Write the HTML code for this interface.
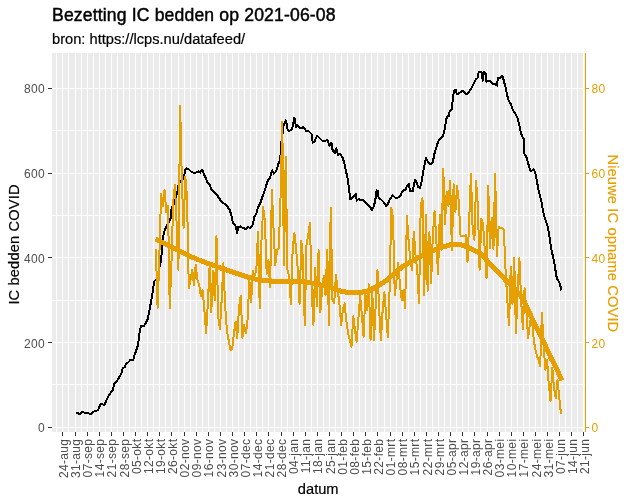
<!DOCTYPE html><html><head><meta charset="utf-8"><style>html,body{margin:0;padding:0;background:#fff;width:631px;height:501px;overflow:hidden}svg{display:block}text{font-family:"Liberation Sans",Arial,sans-serif}</style></head><body>
<svg width="631" height="501" viewBox="0 0 631 501">
<rect x="0" y="0" width="631" height="501" fill="#fff"/>
<rect x="52" y="53" width="532.5" height="379" fill="#EBEBEB"/>
<g shape-rendering="crispEdges"><line x1="52" x2="584.5" y1="427.5" y2="427.5" stroke="#fff" stroke-width="1.0"/><line x1="52" x2="584.5" y1="384.5" y2="384.5" stroke="#fff" stroke-width="1.0"/><line x1="52" x2="584.5" y1="342.5" y2="342.5" stroke="#fff" stroke-width="1.0"/><line x1="52" x2="584.5" y1="300.5" y2="300.5" stroke="#fff" stroke-width="1.0"/><line x1="52" x2="584.5" y1="257.5" y2="257.5" stroke="#fff" stroke-width="1.0"/><line x1="52" x2="584.5" y1="215.5" y2="215.5" stroke="#fff" stroke-width="1.0"/><line x1="52" x2="584.5" y1="173.5" y2="173.5" stroke="#fff" stroke-width="1.0"/><line x1="52" x2="584.5" y1="130.5" y2="130.5" stroke="#fff" stroke-width="1.0"/><line x1="52" x2="584.5" y1="88.5" y2="88.5" stroke="#fff" stroke-width="1.0"/><line x1="56.5" x2="56.5" y1="53" y2="432" stroke="#fff" stroke-width="1"/><line x1="62.5" x2="62.5" y1="53" y2="432" stroke="#fff" stroke-width="1"/><line x1="68.5" x2="68.5" y1="53" y2="432" stroke="#fff" stroke-width="1"/><line x1="75.5" x2="75.5" y1="53" y2="432" stroke="#fff" stroke-width="1"/><line x1="81.5" x2="81.5" y1="53" y2="432" stroke="#fff" stroke-width="1"/><line x1="87.5" x2="87.5" y1="53" y2="432" stroke="#fff" stroke-width="1"/><line x1="93.5" x2="93.5" y1="53" y2="432" stroke="#fff" stroke-width="1"/><line x1="99.5" x2="99.5" y1="53" y2="432" stroke="#fff" stroke-width="1"/><line x1="105.5" x2="105.5" y1="53" y2="432" stroke="#fff" stroke-width="1"/><line x1="111.5" x2="111.5" y1="53" y2="432" stroke="#fff" stroke-width="1"/><line x1="117.5" x2="117.5" y1="53" y2="432" stroke="#fff" stroke-width="1"/><line x1="123.5" x2="123.5" y1="53" y2="432" stroke="#fff" stroke-width="1"/><line x1="129.5" x2="129.5" y1="53" y2="432" stroke="#fff" stroke-width="1"/><line x1="135.5" x2="135.5" y1="53" y2="432" stroke="#fff" stroke-width="1"/><line x1="141.5" x2="141.5" y1="53" y2="432" stroke="#fff" stroke-width="1"/><line x1="147.5" x2="147.5" y1="53" y2="432" stroke="#fff" stroke-width="1"/><line x1="153.5" x2="153.5" y1="53" y2="432" stroke="#fff" stroke-width="1"/><line x1="159.5" x2="159.5" y1="53" y2="432" stroke="#fff" stroke-width="1"/><line x1="165.5" x2="165.5" y1="53" y2="432" stroke="#fff" stroke-width="1"/><line x1="171.5" x2="171.5" y1="53" y2="432" stroke="#fff" stroke-width="1"/><line x1="178.5" x2="178.5" y1="53" y2="432" stroke="#fff" stroke-width="1"/><line x1="184.5" x2="184.5" y1="53" y2="432" stroke="#fff" stroke-width="1"/><line x1="190.5" x2="190.5" y1="53" y2="432" stroke="#fff" stroke-width="1"/><line x1="196.5" x2="196.5" y1="53" y2="432" stroke="#fff" stroke-width="1"/><line x1="202.5" x2="202.5" y1="53" y2="432" stroke="#fff" stroke-width="1"/><line x1="208.5" x2="208.5" y1="53" y2="432" stroke="#fff" stroke-width="1"/><line x1="214.5" x2="214.5" y1="53" y2="432" stroke="#fff" stroke-width="1"/><line x1="220.5" x2="220.5" y1="53" y2="432" stroke="#fff" stroke-width="1"/><line x1="226.5" x2="226.5" y1="53" y2="432" stroke="#fff" stroke-width="1"/><line x1="232.5" x2="232.5" y1="53" y2="432" stroke="#fff" stroke-width="1"/><line x1="238.5" x2="238.5" y1="53" y2="432" stroke="#fff" stroke-width="1"/><line x1="244.5" x2="244.5" y1="53" y2="432" stroke="#fff" stroke-width="1"/><line x1="250.5" x2="250.5" y1="53" y2="432" stroke="#fff" stroke-width="1"/><line x1="256.5" x2="256.5" y1="53" y2="432" stroke="#fff" stroke-width="1"/><line x1="262.5" x2="262.5" y1="53" y2="432" stroke="#fff" stroke-width="1"/><line x1="268.5" x2="268.5" y1="53" y2="432" stroke="#fff" stroke-width="1"/><line x1="274.5" x2="274.5" y1="53" y2="432" stroke="#fff" stroke-width="1"/><line x1="281.5" x2="281.5" y1="53" y2="432" stroke="#fff" stroke-width="1"/><line x1="287.5" x2="287.5" y1="53" y2="432" stroke="#fff" stroke-width="1"/><line x1="293.5" x2="293.5" y1="53" y2="432" stroke="#fff" stroke-width="1"/><line x1="299.5" x2="299.5" y1="53" y2="432" stroke="#fff" stroke-width="1"/><line x1="305.5" x2="305.5" y1="53" y2="432" stroke="#fff" stroke-width="1"/><line x1="311.5" x2="311.5" y1="53" y2="432" stroke="#fff" stroke-width="1"/><line x1="317.5" x2="317.5" y1="53" y2="432" stroke="#fff" stroke-width="1"/><line x1="323.5" x2="323.5" y1="53" y2="432" stroke="#fff" stroke-width="1"/><line x1="329.5" x2="329.5" y1="53" y2="432" stroke="#fff" stroke-width="1"/><line x1="335.5" x2="335.5" y1="53" y2="432" stroke="#fff" stroke-width="1"/><line x1="341.5" x2="341.5" y1="53" y2="432" stroke="#fff" stroke-width="1"/><line x1="347.5" x2="347.5" y1="53" y2="432" stroke="#fff" stroke-width="1"/><line x1="353.5" x2="353.5" y1="53" y2="432" stroke="#fff" stroke-width="1"/><line x1="359.5" x2="359.5" y1="53" y2="432" stroke="#fff" stroke-width="1"/><line x1="365.5" x2="365.5" y1="53" y2="432" stroke="#fff" stroke-width="1"/><line x1="371.5" x2="371.5" y1="53" y2="432" stroke="#fff" stroke-width="1"/><line x1="377.5" x2="377.5" y1="53" y2="432" stroke="#fff" stroke-width="1"/><line x1="384.5" x2="384.5" y1="53" y2="432" stroke="#fff" stroke-width="1"/><line x1="390.5" x2="390.5" y1="53" y2="432" stroke="#fff" stroke-width="1"/><line x1="396.5" x2="396.5" y1="53" y2="432" stroke="#fff" stroke-width="1"/><line x1="402.5" x2="402.5" y1="53" y2="432" stroke="#fff" stroke-width="1"/><line x1="408.5" x2="408.5" y1="53" y2="432" stroke="#fff" stroke-width="1"/><line x1="414.5" x2="414.5" y1="53" y2="432" stroke="#fff" stroke-width="1"/><line x1="420.5" x2="420.5" y1="53" y2="432" stroke="#fff" stroke-width="1"/><line x1="426.5" x2="426.5" y1="53" y2="432" stroke="#fff" stroke-width="1"/><line x1="432.5" x2="432.5" y1="53" y2="432" stroke="#fff" stroke-width="1"/><line x1="438.5" x2="438.5" y1="53" y2="432" stroke="#fff" stroke-width="1"/><line x1="444.5" x2="444.5" y1="53" y2="432" stroke="#fff" stroke-width="1"/><line x1="450.5" x2="450.5" y1="53" y2="432" stroke="#fff" stroke-width="1"/><line x1="456.5" x2="456.5" y1="53" y2="432" stroke="#fff" stroke-width="1"/><line x1="462.5" x2="462.5" y1="53" y2="432" stroke="#fff" stroke-width="1"/><line x1="468.5" x2="468.5" y1="53" y2="432" stroke="#fff" stroke-width="1"/><line x1="474.5" x2="474.5" y1="53" y2="432" stroke="#fff" stroke-width="1"/><line x1="480.5" x2="480.5" y1="53" y2="432" stroke="#fff" stroke-width="1"/><line x1="487.5" x2="487.5" y1="53" y2="432" stroke="#fff" stroke-width="1"/><line x1="493.5" x2="493.5" y1="53" y2="432" stroke="#fff" stroke-width="1"/><line x1="499.5" x2="499.5" y1="53" y2="432" stroke="#fff" stroke-width="1"/><line x1="505.5" x2="505.5" y1="53" y2="432" stroke="#fff" stroke-width="1"/><line x1="511.5" x2="511.5" y1="53" y2="432" stroke="#fff" stroke-width="1"/><line x1="517.5" x2="517.5" y1="53" y2="432" stroke="#fff" stroke-width="1"/><line x1="523.5" x2="523.5" y1="53" y2="432" stroke="#fff" stroke-width="1"/><line x1="529.5" x2="529.5" y1="53" y2="432" stroke="#fff" stroke-width="1"/><line x1="535.5" x2="535.5" y1="53" y2="432" stroke="#fff" stroke-width="1"/><line x1="541.5" x2="541.5" y1="53" y2="432" stroke="#fff" stroke-width="1"/><line x1="547.5" x2="547.5" y1="53" y2="432" stroke="#fff" stroke-width="1"/><line x1="553.5" x2="553.5" y1="53" y2="432" stroke="#fff" stroke-width="1"/><line x1="559.5" x2="559.5" y1="53" y2="432" stroke="#fff" stroke-width="1"/><line x1="565.5" x2="565.5" y1="53" y2="432" stroke="#fff" stroke-width="1"/><line x1="571.5" x2="571.5" y1="53" y2="432" stroke="#fff" stroke-width="1"/><line x1="577.5" x2="577.5" y1="53" y2="432" stroke="#fff" stroke-width="1"/><line x1="583.5" x2="583.5" y1="53" y2="432" stroke="#fff" stroke-width="1"/></g>
<path d="M76.37,412.70 L80.37,414.30 L81.97,411.90 L85.97,413.00 L90.77,413.80 L94.77,411.10 L97.97,410.30 L100.37,404.20 L101.97,403.60 L104.27,405.50 L106.67,399.90 L109.07,395.10 L113.07,389.50 L114.37,383.10 L116.27,381.90 L121.07,374.30 L122.67,368.40 L125.07,366.80 L125.87,363.60 L128.27,362.40 L130.67,359.50 L133.07,360.40 L134.17,356.00 L136.27,350.40 L137.87,345.60 L138.77,339.10 L139.87,330.30 L141.17,325.80 L143.57,326.30 L145.17,323.90 L147.27,320.40 L148.37,315.90 L149.97,307.90 L151.57,298.30 L153.17,288.80 L153.97,281.60 L156.37,279.20 L158.47,272.00 L160.47,263.00 L161.47,256.00 L161.77,244.00 L162.97,237.50 L164.17,231.50 L170.57,218.40 L170.97,212.00 L171.77,207.20 L174.57,202.80 L177.97,188.80 L178.77,184.00 L183.47,178.40 L184.27,176.00 L185.07,169.60 L186.67,168.30 L188.27,168.80 L190.67,171.20 L193.07,172.50 L196.27,172.50 L198.67,171.50 L200.27,172.80 L201.37,170.40 L202.67,170.40 L204.27,175.20 L205.87,178.40 L207.47,182.40 L209.87,184.80 L211.47,189.60 L213.87,192.00 L217.07,195.10 L220.27,199.90 L223.47,203.10 L226.67,205.50 L229.87,210.30 L231.47,215.90 L233.07,223.10 L235.47,225.50 L237.17,232.70 L238.27,227.10 L240.37,226.30 L242.77,227.90 L245.17,228.70 L245.97,229.50 L247.57,227.10 L249.97,227.90 L251.57,226.30 L253.17,223.90 L253.97,217.50 L255.57,215.10 L257.17,211.10 L257.97,207.10 L259.57,204.70 L261.17,200.70 L262.67,195.90 L264.27,191.90 L265.87,187.20 L267.07,182.40 L268.27,180.00 L270.27,177.60 L271.47,172.00 L272.27,170.40 L273.87,173.60 L276.27,171.20 L277.87,165.60 L279.47,160.80 L280.37,157.90 L281.17,143.50 L283.57,126.00 L285.17,122.00 L285.97,120.40 L286.77,124.40 L287.57,129.20 L289.17,130.80 L291.57,130.00 L293.17,125.20 L293.97,118.00 L295.07,118.80 L295.87,127.60 L297.17,125.20 L299.57,127.60 L301.87,128.40 L303.47,126.80 L305.87,130.80 L308.27,130.80 L311.47,134.00 L312.77,142.70 L314.67,141.10 L317.07,135.60 L319.47,138.00 L321.87,140.40 L325.07,141.10 L327.47,139.60 L329.37,145.90 L331.47,142.70 L332.57,149.90 L334.67,153.10 L336.27,148.30 L337.87,154.70 L340.27,153.90 L342.67,157.90 L344.27,162.70 L345.87,170.70 L347.47,177.60 L348.77,187.20 L350.37,199.10 L351.97,198.30 L354.37,195.90 L355.97,194.30 L356.77,200.70 L358.37,199.10 L360.77,199.90 L363.17,199.90 L365.57,202.30 L367.97,204.70 L370.37,207.10 L371.87,210.30 L373.47,207.10 L375.07,201.50 L376.67,190.40 L377.97,191.20 L378.67,198.30 L380.67,199.10 L383.07,201.50 L386.27,206.30 L387.87,203.90 L389.47,199.90 L392.67,195.10 L395.07,197.50 L398.27,197.50 L400.67,195.10 L402.27,191.20 L405.47,189.60 L407.07,185.60 L408.67,184.00 L410.27,191.20 L412.67,191.20 L415.07,180.00 L416.67,182.40 L418.27,187.20 L419.87,188.00 L421.47,182.40 L423.07,172.80 L424.77,163.50 L426.07,157.90 L427.97,161.90 L430.37,164.30 L432.77,162.70 L434.07,155.50 L435.17,150.70 L436.77,145.90 L438.37,141.10 L440.77,138.50 L443.17,135.90 L444.77,128.70 L446.37,119.10 L447.17,116.70 L448.77,115.90 L449.57,111.90 L451.97,108.70 L452.77,98.30 L454.07,90.40 L455.67,89.60 L456.77,94.30 L458.37,93.50 L460.77,91.90 L463.17,90.70 L464.77,92.70 L466.37,94.30 L468.77,92.00 L471.07,88.80 L473.47,84.00 L475.87,79.20 L477.47,78.40 L478.67,72.00 L480.67,72.00 L481.87,72.80 L482.77,80.80 L483.87,72.00 L485.47,72.80 L486.27,81.60 L487.87,80.80 L490.27,80.80 L492.67,84.00 L495.07,84.00 L497.17,85.60 L497.77,77.60 L499.87,78.40 L501.47,76.00 L502.57,76.00 L503.87,80.80 L505.47,87.20 L507.07,95.10 L508.67,100.70 L511.07,104.70 L512.67,109.50 L515.07,113.50 L517.47,117.50 L519.07,123.90 L520.67,131.90 L522.27,136.70 L523.57,138.80 L523.97,153.20 L526.37,157.20 L527.97,162.70 L530.37,170.70 L531.87,170.70 L533.47,169.10 L535.07,172.30 L536.67,179.50 L538.27,189.10 L539.87,195.50 L541.47,201.90 L542.27,206.40 L543.87,215.20 L546.27,222.40 L547.87,227.20 L549.47,236.70 L551.07,247.90 L553.47,259.10 L555.07,267.10 L556.17,275.50 L557.47,279.50 L559.07,281.60 L560.37,285.60 L561.17,290.40" fill="none" stroke="#000" stroke-width="2" stroke-linejoin="round" shape-rendering="crispEdges"/>
<path d="M155.89,249.00 L157.62,308.00 L159.36,255.00 L161.09,194.00 L162.82,206.00 L164.55,190.00 L166.28,212.00 L168.01,206.00 L169.74,308.00 L171.47,262.00 L173.20,202.00 L174.94,185.00 L176.67,225.00 L178.40,270.00 L180.13,105.50 L181.86,182.00 L183.59,228.00 L185.32,177.00 L187.05,198.00 L188.78,288.00 L190.51,280.00 L192.25,270.00 L193.98,285.00 L195.71,265.00 L197.44,280.00 L199.17,285.00 L200.90,296.00 L202.63,290.00 L204.36,310.00 L206.09,333.00 L207.82,304.00 L209.56,267.00 L211.29,312.00 L213.02,271.00 L214.75,300.00 L216.48,236.00 L218.21,317.00 L219.94,329.00 L221.67,300.00 L223.40,263.00 L225.13,306.00 L226.87,330.00 L228.60,340.00 L230.33,349.50 L232.06,349.50 L233.79,335.00 L235.52,321.60 L237.25,338.00 L238.98,308.00 L240.71,295.50 L242.44,338.00 L244.18,325.00 L245.91,333.50 L247.64,319.00 L249.37,280.00 L251.10,302.00 L252.83,271.00 L254.56,276.00 L256.29,271.00 L258.02,232.00 L259.75,308.00 L261.49,240.00 L263.22,207.00 L264.95,222.00 L266.68,274.00 L268.41,260.00 L270.14,287.00 L271.87,190.00 L273.60,230.00 L275.33,265.00 L277.06,250.00 L278.80,248.00 L280.53,198.00 L282.26,122.00 L283.99,265.00 L285.72,157.00 L287.45,270.00 L289.18,276.00 L290.91,304.00 L292.64,250.00 L294.37,233.00 L296.11,249.00 L297.84,270.00 L299.57,304.00 L301.30,241.00 L303.03,260.00 L304.76,325.00 L306.49,245.00 L308.22,235.00 L309.95,223.00 L311.68,290.00 L313.42,325.00 L315.15,268.00 L316.88,306.00 L318.61,250.00 L320.34,312.00 L322.07,290.00 L323.80,276.00 L325.53,295.00 L327.26,250.00 L328.99,325.00 L330.73,207.60 L332.46,300.00 L334.19,303.00 L335.92,275.00 L337.65,290.00 L339.38,303.00 L341.11,325.00 L342.84,310.00 L344.57,303.50 L346.30,320.00 L348.04,333.00 L349.77,340.00 L351.50,346.60 L353.23,316.30 L354.96,330.00 L356.69,341.80 L358.42,318.00 L360.15,295.50 L361.88,315.00 L363.61,337.00 L365.35,294.00 L367.08,310.00 L368.81,284.40 L370.54,340.00 L372.27,290.70 L374.00,340.20 L375.73,305.00 L377.46,270.00 L379.19,310.00 L380.92,340.20 L382.66,310.00 L384.39,292.30 L386.12,315.00 L387.85,337.00 L389.58,290.00 L391.31,207.60 L393.04,219.00 L394.77,295.00 L396.50,280.00 L398.23,263.00 L399.97,285.00 L401.70,300.00 L403.43,290.00 L405.16,308.00 L406.89,215.60 L408.62,241.00 L410.35,260.00 L412.08,270.00 L413.81,232.00 L415.54,255.00 L417.28,271.00 L419.01,303.00 L420.74,205.00 L422.47,198.50 L424.20,295.00 L425.93,215.00 L427.66,291.00 L429.39,232.00 L431.12,283.00 L432.85,235.00 L434.59,211.00 L436.32,240.00 L438.05,274.00 L439.78,215.00 L441.51,250.00 L443.24,169.00 L444.97,224.00 L446.70,192.00 L448.43,206.00 L450.16,181.00 L451.90,250.00 L453.63,184.00 L455.36,212.00 L457.09,186.00 L458.82,202.00 L460.55,236.00 L462.28,236.00 L464.01,236.00 L465.74,235.00 L467.47,262.00 L469.21,220.00 L470.94,174.00 L472.67,230.00 L474.40,240.00 L476.13,181.00 L477.86,206.00 L479.59,270.00 L481.32,219.00 L483.05,224.00 L484.78,250.00 L486.52,278.00 L488.25,186.00 L489.98,248.00 L491.71,218.00 L493.44,249.00 L495.17,174.00 L496.90,256.00 L498.63,227.00 L500.36,228.00 L502.09,228.00 L503.83,230.00 L505.56,270.00 L507.29,300.00 L509.02,325.00 L510.75,267.00 L512.48,304.00 L514.21,258.00 L515.94,333.00 L517.67,290.00 L519.40,258.00 L521.13,300.00 L522.87,329.00 L524.60,288.00 L526.33,310.00 L528.06,338.00 L529.79,325.00 L531.52,313.00 L533.25,335.00 L534.98,348.00 L536.71,355.00 L538.45,360.00 L540.18,366.00 L541.91,313.00 L543.64,345.00 L545.37,370.00 L547.10,360.00 L548.83,385.00 L550.56,401.00 L552.29,368.00 L554.02,388.00 L555.75,398.00 L557.49,380.00 L559.22,397.00 L560.95,413.70" fill="none" stroke="#E69F00" stroke-width="2" stroke-linejoin="round" shape-rendering="crispEdges"/>
<path d="M155.47,239.00 L164.97,243.80 L172.37,247.60 L179.97,251.40 L189.97,256.30 L199.97,260.40 L209.97,264.20 L219.97,267.80 L229.97,271.30 L245.97,276.50 L258.77,280.00 L277.87,281.50 L301.87,281.60 L314.97,283.50 L324.97,286.00 L334.57,289.20 L340.97,291.20 L350.57,292.90 L360.07,292.50 L368.07,291.00 L377.67,286.20 L385.67,281.00 L393.67,274.00 L401.67,267.20 L411.27,261.50 L420.77,256.30 L429.97,251.50 L440.77,247.60 L451.97,244.30 L461.47,245.00 L471.07,248.60 L480.67,253.80 L488.67,262.30 L498.27,272.30 L506.27,280.80 L512.67,286.20 L519.97,295.00 L526.27,306.00 L535.87,326.50 L543.87,342.30 L550.27,356.50 L556.67,369.00 L561.97,380.50" fill="none" stroke="#E69F00" stroke-width="5" stroke-linejoin="round" shape-rendering="crispEdges"/>
<g shape-rendering="crispEdges"><line x1="48" x2="52" y1="427.5" y2="427.5" stroke="#333" stroke-width="1"/><line x1="48" x2="52" y1="342.5" y2="342.5" stroke="#333" stroke-width="1"/><line x1="48" x2="52" y1="257.5" y2="257.5" stroke="#333" stroke-width="1"/><line x1="48" x2="52" y1="173.5" y2="173.5" stroke="#333" stroke-width="1"/><line x1="48" x2="52" y1="88.5" y2="88.5" stroke="#333" stroke-width="1"/><line x1="62.5" x2="62.5" y1="432" y2="436" stroke="#333" stroke-width="1"/><line x1="75.5" x2="75.5" y1="432" y2="436" stroke="#333" stroke-width="1"/><line x1="87.5" x2="87.5" y1="432" y2="436" stroke="#333" stroke-width="1"/><line x1="99.5" x2="99.5" y1="432" y2="436" stroke="#333" stroke-width="1"/><line x1="111.5" x2="111.5" y1="432" y2="436" stroke="#333" stroke-width="1"/><line x1="123.5" x2="123.5" y1="432" y2="436" stroke="#333" stroke-width="1"/><line x1="135.5" x2="135.5" y1="432" y2="436" stroke="#333" stroke-width="1"/><line x1="147.5" x2="147.5" y1="432" y2="436" stroke="#333" stroke-width="1"/><line x1="159.5" x2="159.5" y1="432" y2="436" stroke="#333" stroke-width="1"/><line x1="171.5" x2="171.5" y1="432" y2="436" stroke="#333" stroke-width="1"/><line x1="184.5" x2="184.5" y1="432" y2="436" stroke="#333" stroke-width="1"/><line x1="196.5" x2="196.5" y1="432" y2="436" stroke="#333" stroke-width="1"/><line x1="208.5" x2="208.5" y1="432" y2="436" stroke="#333" stroke-width="1"/><line x1="220.5" x2="220.5" y1="432" y2="436" stroke="#333" stroke-width="1"/><line x1="232.5" x2="232.5" y1="432" y2="436" stroke="#333" stroke-width="1"/><line x1="244.5" x2="244.5" y1="432" y2="436" stroke="#333" stroke-width="1"/><line x1="256.5" x2="256.5" y1="432" y2="436" stroke="#333" stroke-width="1"/><line x1="268.5" x2="268.5" y1="432" y2="436" stroke="#333" stroke-width="1"/><line x1="281.5" x2="281.5" y1="432" y2="436" stroke="#333" stroke-width="1"/><line x1="293.5" x2="293.5" y1="432" y2="436" stroke="#333" stroke-width="1"/><line x1="305.5" x2="305.5" y1="432" y2="436" stroke="#333" stroke-width="1"/><line x1="317.5" x2="317.5" y1="432" y2="436" stroke="#333" stroke-width="1"/><line x1="329.5" x2="329.5" y1="432" y2="436" stroke="#333" stroke-width="1"/><line x1="341.5" x2="341.5" y1="432" y2="436" stroke="#333" stroke-width="1"/><line x1="353.5" x2="353.5" y1="432" y2="436" stroke="#333" stroke-width="1"/><line x1="365.5" x2="365.5" y1="432" y2="436" stroke="#333" stroke-width="1"/><line x1="377.5" x2="377.5" y1="432" y2="436" stroke="#333" stroke-width="1"/><line x1="390.5" x2="390.5" y1="432" y2="436" stroke="#333" stroke-width="1"/><line x1="402.5" x2="402.5" y1="432" y2="436" stroke="#333" stroke-width="1"/><line x1="414.5" x2="414.5" y1="432" y2="436" stroke="#333" stroke-width="1"/><line x1="426.5" x2="426.5" y1="432" y2="436" stroke="#333" stroke-width="1"/><line x1="438.5" x2="438.5" y1="432" y2="436" stroke="#333" stroke-width="1"/><line x1="450.5" x2="450.5" y1="432" y2="436" stroke="#333" stroke-width="1"/><line x1="462.5" x2="462.5" y1="432" y2="436" stroke="#333" stroke-width="1"/><line x1="474.5" x2="474.5" y1="432" y2="436" stroke="#333" stroke-width="1"/><line x1="487.5" x2="487.5" y1="432" y2="436" stroke="#333" stroke-width="1"/><line x1="499.5" x2="499.5" y1="432" y2="436" stroke="#333" stroke-width="1"/><line x1="511.5" x2="511.5" y1="432" y2="436" stroke="#333" stroke-width="1"/><line x1="523.5" x2="523.5" y1="432" y2="436" stroke="#333" stroke-width="1"/><line x1="535.5" x2="535.5" y1="432" y2="436" stroke="#333" stroke-width="1"/><line x1="547.5" x2="547.5" y1="432" y2="436" stroke="#333" stroke-width="1"/><line x1="559.5" x2="559.5" y1="432" y2="436" stroke="#333" stroke-width="1"/><line x1="571.5" x2="571.5" y1="432" y2="436" stroke="#333" stroke-width="1"/><line x1="583.5" x2="583.5" y1="432" y2="436" stroke="#333" stroke-width="1"/><line x1="585.5" x2="585.5" y1="53" y2="432" stroke="#E69F00" stroke-width="1.3"/><line x1="585" x2="589" y1="427.5" y2="427.5" stroke="#E69F00" stroke-width="1"/><line x1="585" x2="589" y1="342.5" y2="342.5" stroke="#E69F00" stroke-width="1"/><line x1="585" x2="589" y1="257.5" y2="257.5" stroke="#E69F00" stroke-width="1"/><line x1="585" x2="589" y1="173.5" y2="173.5" stroke="#E69F00" stroke-width="1"/><line x1="585" x2="589" y1="88.5" y2="88.5" stroke="#E69F00" stroke-width="1"/></g>
<text x="45" y="432.4" font-size="12" letter-spacing="0.35" fill="#4D4D4D" text-anchor="end">0</text>
<text x="45" y="347.6" font-size="12" letter-spacing="0.35" fill="#4D4D4D" text-anchor="end">200</text>
<text x="45" y="262.9" font-size="12" letter-spacing="0.35" fill="#4D4D4D" text-anchor="end">400</text>
<text x="45" y="178.1" font-size="12" letter-spacing="0.35" fill="#4D4D4D" text-anchor="end">600</text>
<text x="45" y="93.4" font-size="12" letter-spacing="0.35" fill="#4D4D4D" text-anchor="end">800</text>
<text x="591.5" y="432.4" font-size="12" letter-spacing="0.35" fill="#E69F00">0</text>
<text x="591.5" y="347.6" font-size="12" letter-spacing="0.35" fill="#E69F00">20</text>
<text x="591.5" y="262.9" font-size="12" letter-spacing="0.35" fill="#E69F00">40</text>
<text x="591.5" y="178.1" font-size="12" letter-spacing="0.35" fill="#E69F00">60</text>
<text x="591.5" y="93.4" font-size="12" letter-spacing="0.35" fill="#E69F00">80</text>
<text transform="translate(68.02,438.6) rotate(-90)" font-size="12" letter-spacing="0.35" fill="#4D4D4D" text-anchor="end">24-aug</text>
<text transform="translate(80.14,438.6) rotate(-90)" font-size="12" letter-spacing="0.35" fill="#4D4D4D" text-anchor="end">31-aug</text>
<text transform="translate(92.25,438.6) rotate(-90)" font-size="12" letter-spacing="0.35" fill="#4D4D4D" text-anchor="end">07-sep</text>
<text transform="translate(104.37,438.6) rotate(-90)" font-size="12" letter-spacing="0.35" fill="#4D4D4D" text-anchor="end">14-sep</text>
<text transform="translate(116.49,438.6) rotate(-90)" font-size="12" letter-spacing="0.35" fill="#4D4D4D" text-anchor="end">21-sep</text>
<text transform="translate(128.61,438.6) rotate(-90)" font-size="12" letter-spacing="0.35" fill="#4D4D4D" text-anchor="end">28-sep</text>
<text transform="translate(140.72,438.6) rotate(-90)" font-size="12" letter-spacing="0.35" fill="#4D4D4D" text-anchor="end">05-okt</text>
<text transform="translate(152.84,438.6) rotate(-90)" font-size="12" letter-spacing="0.35" fill="#4D4D4D" text-anchor="end">12-okt</text>
<text transform="translate(164.96,438.6) rotate(-90)" font-size="12" letter-spacing="0.35" fill="#4D4D4D" text-anchor="end">19-okt</text>
<text transform="translate(177.07,438.6) rotate(-90)" font-size="12" letter-spacing="0.35" fill="#4D4D4D" text-anchor="end">26-okt</text>
<text transform="translate(189.19,438.6) rotate(-90)" font-size="12" letter-spacing="0.35" fill="#4D4D4D" text-anchor="end">02-nov</text>
<text transform="translate(201.31,438.6) rotate(-90)" font-size="12" letter-spacing="0.35" fill="#4D4D4D" text-anchor="end">09-nov</text>
<text transform="translate(213.42,438.6) rotate(-90)" font-size="12" letter-spacing="0.35" fill="#4D4D4D" text-anchor="end">16-nov</text>
<text transform="translate(225.54,438.6) rotate(-90)" font-size="12" letter-spacing="0.35" fill="#4D4D4D" text-anchor="end">23-nov</text>
<text transform="translate(237.66,438.6) rotate(-90)" font-size="12" letter-spacing="0.35" fill="#4D4D4D" text-anchor="end">30-nov</text>
<text transform="translate(249.78,438.6) rotate(-90)" font-size="12" letter-spacing="0.35" fill="#4D4D4D" text-anchor="end">07-dec</text>
<text transform="translate(261.89,438.6) rotate(-90)" font-size="12" letter-spacing="0.35" fill="#4D4D4D" text-anchor="end">14-dec</text>
<text transform="translate(274.01,438.6) rotate(-90)" font-size="12" letter-spacing="0.35" fill="#4D4D4D" text-anchor="end">21-dec</text>
<text transform="translate(286.13,438.6) rotate(-90)" font-size="12" letter-spacing="0.35" fill="#4D4D4D" text-anchor="end">28-dec</text>
<text transform="translate(298.24,438.6) rotate(-90)" font-size="12" letter-spacing="0.35" fill="#4D4D4D" text-anchor="end">04-jan</text>
<text transform="translate(310.36,438.6) rotate(-90)" font-size="12" letter-spacing="0.35" fill="#4D4D4D" text-anchor="end">11-jan</text>
<text transform="translate(322.48,438.6) rotate(-90)" font-size="12" letter-spacing="0.35" fill="#4D4D4D" text-anchor="end">18-jan</text>
<text transform="translate(334.59,438.6) rotate(-90)" font-size="12" letter-spacing="0.35" fill="#4D4D4D" text-anchor="end">25-jan</text>
<text transform="translate(346.71,438.6) rotate(-90)" font-size="12" letter-spacing="0.35" fill="#4D4D4D" text-anchor="end">01-feb</text>
<text transform="translate(358.83,438.6) rotate(-90)" font-size="12" letter-spacing="0.35" fill="#4D4D4D" text-anchor="end">08-feb</text>
<text transform="translate(370.95,438.6) rotate(-90)" font-size="12" letter-spacing="0.35" fill="#4D4D4D" text-anchor="end">15-feb</text>
<text transform="translate(383.06,438.6) rotate(-90)" font-size="12" letter-spacing="0.35" fill="#4D4D4D" text-anchor="end">22-feb</text>
<text transform="translate(395.18,438.6) rotate(-90)" font-size="12" letter-spacing="0.35" fill="#4D4D4D" text-anchor="end">01-mrt</text>
<text transform="translate(407.30,438.6) rotate(-90)" font-size="12" letter-spacing="0.35" fill="#4D4D4D" text-anchor="end">08-mrt</text>
<text transform="translate(419.41,438.6) rotate(-90)" font-size="12" letter-spacing="0.35" fill="#4D4D4D" text-anchor="end">15-mrt</text>
<text transform="translate(431.53,438.6) rotate(-90)" font-size="12" letter-spacing="0.35" fill="#4D4D4D" text-anchor="end">22-mrt</text>
<text transform="translate(443.65,438.6) rotate(-90)" font-size="12" letter-spacing="0.35" fill="#4D4D4D" text-anchor="end">29-mrt</text>
<text transform="translate(455.76,438.6) rotate(-90)" font-size="12" letter-spacing="0.35" fill="#4D4D4D" text-anchor="end">05-apr</text>
<text transform="translate(467.88,438.6) rotate(-90)" font-size="12" letter-spacing="0.35" fill="#4D4D4D" text-anchor="end">12-apr</text>
<text transform="translate(480.00,438.6) rotate(-90)" font-size="12" letter-spacing="0.35" fill="#4D4D4D" text-anchor="end">19-apr</text>
<text transform="translate(492.12,438.6) rotate(-90)" font-size="12" letter-spacing="0.35" fill="#4D4D4D" text-anchor="end">26-apr</text>
<text transform="translate(504.23,438.6) rotate(-90)" font-size="12" letter-spacing="0.35" fill="#4D4D4D" text-anchor="end">03-mei</text>
<text transform="translate(516.35,438.6) rotate(-90)" font-size="12" letter-spacing="0.35" fill="#4D4D4D" text-anchor="end">10-mei</text>
<text transform="translate(528.47,438.6) rotate(-90)" font-size="12" letter-spacing="0.35" fill="#4D4D4D" text-anchor="end">17-mei</text>
<text transform="translate(540.58,438.6) rotate(-90)" font-size="12" letter-spacing="0.35" fill="#4D4D4D" text-anchor="end">24-mei</text>
<text transform="translate(552.70,438.6) rotate(-90)" font-size="12" letter-spacing="0.35" fill="#4D4D4D" text-anchor="end">31-mei</text>
<text transform="translate(564.82,438.6) rotate(-90)" font-size="12" letter-spacing="0.35" fill="#4D4D4D" text-anchor="end">07-jun</text>
<text transform="translate(576.93,438.6) rotate(-90)" font-size="12" letter-spacing="0.35" fill="#4D4D4D" text-anchor="end">14-jun</text>
<text transform="translate(589.05,438.6) rotate(-90)" font-size="12" letter-spacing="0.35" fill="#4D4D4D" text-anchor="end">21-jun</text>
<text x="52" y="21.2" font-size="17.6" fill="#000" stroke="#000" stroke-width="0.45" letter-spacing="0.15">Bezetting IC bedden op 2021-06-08</text>
<text x="52" y="43.7" font-size="14.67" fill="#000" stroke="#000" stroke-width="0.2">bron: https://lcps.nu/datafeed/</text>
<text x="318.2" y="493.6" font-size="14.67" fill="#000" stroke="#000" stroke-width="0.2" text-anchor="middle">datum</text>
<text transform="translate(18.9,244.5) rotate(-90)" font-size="14.67" letter-spacing="0.14" fill="#000" stroke="#000" stroke-width="0.2" text-anchor="middle">IC bedden COVID</text>
<text transform="translate(607.9,243.4) rotate(90)" font-size="14.67" letter-spacing="0.12" fill="#E69F00" stroke="#E69F00" stroke-width="0.2" text-anchor="middle">Nieuwe IC opname COVID</text>
</svg></body></html>
